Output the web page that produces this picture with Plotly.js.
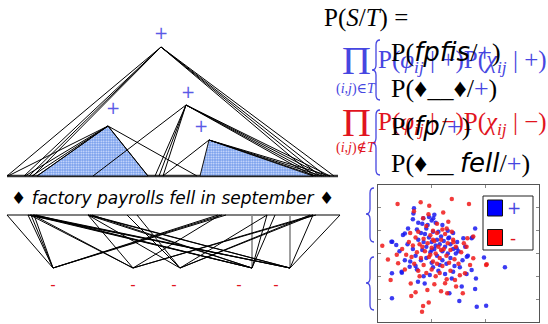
<!DOCTYPE html>
<html><head><meta charset="utf-8">
<script src="https://cdn.plot.ly/plotly-3.0.1.min.js"></script>
<style>html,body{margin:0;padding:0;background:#fff;} #chart{width:548px;height:324px;}</style>
</head><body><div id="chart"></div>
<script>
// ---------- tree (upper, positive) ----------
const topNodeX = [161, 108, 186, 209];
const topNodeY = [47, 126, 105, 140];
const topNodeLabels = ['+', '+', '+', '+'];
const topLabelX = [161, 113, 188, 201];
const topLabelY = [35, 110, 94, 128];
const topBaseY = 176;
const topEdgeNode  = [0,0,0,0,0,0,0,0, 1,1,1,1,1,1, 2,2,2,2,2,2,2,2, 3,3,3,3];
const topEdgeLeafX = [7,24,29,33,314,320,326,334, 8,25,32,37,148,197, 93,155,159,163,313,318,324,330, 163,316,322,330];
const triApex   = [1, 3];
const triLeftX  = [37, 200];
const triRightX = [148, 313];

// ---------- sentence ----------
const sentenceWords = ['factory', 'payrolls', 'fell', 'in', 'september'];

// ---------- tree (lower, negative) ----------
const botTopY = 215;
const botNodeY = 268;
const botNodeX = [53, 133, 180, 252, 290];
const botLabels = ['-', '-', '-', '-', '-'];
const botLabelX = [53, 133, 174, 239, 276];
const botEdgeNode = [0,0,0,0,0,0,0, 1,1,1,1,1,1, 2,2,2,2,2,2, 3,3,3,3,3,3,3, 4,4,4,4,4,4,4];
const botEdgeTopX = [7,28,31,34,218,222,226, 30,33,88,220,313,316, 88,127,137,267,310,313, 30,33,36,88,92,267,275, 28,31,34,88,90,313,340];
const botVertX = [252, 290];

// ---------- scatter ----------
const posX = [-1.66,-1.70,-1.68,-1.88,-2.07,-2.50,-2.32,-1.55,-1.40,-1.20,-1.35,-1.00,-0.85,-0.60,-1.10,-0.75,0.62,0.18,0.52,0.95,1.73,0.65,0.49,0.12,-0.34,0.62,0.03,0.68,1.03,-2.48,-2.48,-2.11,-1.82,-1.51,-1.26,-1.07,-1.30,-0.95,
  -1.9,-1.7,-1.5,-1.3,-1.2,-1.1,-1.0,-0.9,-0.8,-0.7,-0.6,-0.5,-0.4,-0.3,-0.2,-0.1,0.0,-1.6,-1.4,-1.2,-1.0,-0.8,-0.6,-0.45,-0.3,-0.15,-2.2,-2.0,-1.8,-1.25,-0.95,-0.65,-0.35,-0.05,0.25,0.35,0.15,-0.2,-0.5,-0.75,-1.55,-1.05,-0.85,-0.55,-1.35,-0.7,0.05,-0.25,0.3,-1.15,-0.9,-1.5,-0.4,-0.2,
  -2.47,-2.0,-1.31,-0.94,-0.38,-0.07,0.31,0.49,-2.12,-1.6,-1.0];
const posY = [1.98,1.50,1.75,1.10,0.81,0.52,0.37,1.05,0.90,1.10,1.30,1.45,1.35,1.25,1.60,0.95,1.10,0.67,0.71,-0.18,-0.60,-1.09,-0.72,-1.45,-1.74,-1.56,-2.08,-2.33,-2.29,-0.87,-1.96,-0.84,-0.58,-1.24,-1.31,-0.94,-1.00,-0.60,
  0.4,0.2,0.6,0.5,0.3,0.7,0.5,0.2,0.6,0.4,0.1,0.3,0.0,0.4,0.2,0.0,0.1,-0.1,-0.3,-0.2,-0.4,-0.1,-0.3,-0.45,-0.2,-0.55,0.1,-0.3,-0.35,0.85,0.95,0.75,0.7,0.5,0.3,-0.1,-0.3,-0.8,-0.9,-0.75,-0.7,0.05,0.35,0.55,0.15,-0.5,-0.6,-1.1,-0.9,1.25,1.7,1.35,1.0,0.9,
  0.52,0.88,1.54,1.54,0.67,0.23,-0.14,0.67,-0.80,-0.55,0.15];
const negX = [-2.27,-1.41,-1.09,-0.25,0.39,-1.66,-1.12,-0.38,-0.57,-0.44,-2.84,1.05,0.30,0.33,-0.19,0.55,1.03,0.43,0.24,-0.13,-0.09,-0.44,-0.42,0.16,-2.53,-1.78,-1.76,-1.16,-1.32,-1.36,-1.11,-2.63,-2.25,-1.32,-0.80,-0.95,-1.50,0.55,
  -2.1,-1.95,-1.85,-1.7,-1.6,-1.55,-1.45,-1.4,-1.3,-1.25,-1.15,-1.1,-1.05,-1.0,-0.95,-0.9,-0.85,-0.8,-0.75,-0.7,-0.65,-0.6,-0.55,-0.5,-0.45,-0.4,-0.35,-0.3,-0.2,-0.15,-0.1,0.0,0.1,0.2,-1.65,-1.5,-1.3,-1.2,-1.0,-0.85,-0.7,-0.5,-0.3,-0.9,-1.45,-2.0,-1.8,-1.2,-0.6,-0.25,-1.75,-1.35,-0.95,-0.65,-1.05,-0.8,-1.6,-0.65,0.05,-2.3];
const negY = [2.17,2.24,2.09,2.39,2.17,1.85,1.72,1.39,1.80,1.10,0.34,-0.47,0.30,0.67,0.49,-0.21,-0.50,-0.50,-0.87,-1.16,-1.45,-1.13,-1.74,-1.74,-1.16,-1.31,-1.86,-1.60,-2.30,-2.55,-2.15,-0.26,-0.43,1.54,1.30,1.00,0.95,0.75,
  0.2,-0.05,0.5,0.35,0.7,0.05,0.4,-0.2,0.65,0.1,0.45,-0.15,0.8,0.25,-0.35,0.55,0.0,0.9,0.3,-0.2,0.6,-0.55,0.2,0.85,-0.1,0.45,-0.4,0.15,0.6,-0.25,0.3,-0.45,0.05,0.45,-0.45,-0.75,-0.5,-0.85,-0.7,-1.0,-0.85,-1.3,-0.75,-1.35,-1.0,-0.7,0.9,1.2,1.05,0.95,-0.15,0.3,0.6,0.15,-0.05,-0.45,-1.7,-1.65,-0.95,-0.05];
const legendLabels = ['+', '-'];

// ---------- build traces ----------
const BLUE = 'rgb(70,70,225)';
const RED = 'rgb(225,20,30)';
function segments(x0, y0, x1, y1) {
  const xs = [], ys = [];
  for (let i = 0; i < x0.length; i++) { xs.push(x0[i], x1[i], null); ys.push(y0[i], y1[i], null); }
  return {xs, ys};
}
const traces = [];
traces.push({x:[7,338], y:[topBaseY, topBaseY], mode:'lines', line:{color:'#333', width:2.5}, hoverinfo:'skip', xaxis:'x', yaxis:'y'});
for (let k = 0; k < triApex.length; k++) {
  const a = triApex[k];
  traces.push({x:[triLeftX[k], topNodeX[a], triRightX[k], triLeftX[k]], y:[topBaseY, topNodeY[a], topBaseY, topBaseY],
    mode:'lines', fill:'toself', fillcolor:'rgb(140,175,240)',
    fillpattern:{shape:'.', bgcolor:'rgb(115,155,235)', fgcolor:'rgb(225,235,255)', size:2.5, solidity:0.4},
    line:{color:'#111', width:1}, hoverinfo:'skip', xaxis:'x', yaxis:'y'});
}
{
  const s = segments(topEdgeNode.map(i => topNodeX[i]), topEdgeNode.map(i => topNodeY[i]), topEdgeLeafX, topEdgeLeafX.map(() => topBaseY));
  traces.push({x:s.xs, y:s.ys, mode:'lines', line:{color:'#000', width:1}, hoverinfo:'skip', xaxis:'x', yaxis:'y'});
}
traces.push({x:[7,340], y:[botTopY, botTopY], mode:'lines', line:{color:'#000', width:1.2}, hoverinfo:'skip', xaxis:'x', yaxis:'y'});
{
  const s = segments(botVertX, botVertX.map(() => botTopY), botVertX, botVertX.map(() => botNodeY));
  traces.push({x:s.xs, y:s.ys, mode:'lines', line:{color:'#888', width:1.6}, hoverinfo:'skip', xaxis:'x', yaxis:'y'});
}
{
  const s = segments(botEdgeNode.map(i => botNodeX[i]), botEdgeNode.map(() => botNodeY), botEdgeTopX, botEdgeTopX.map(() => botTopY));
  traces.push({x:s.xs, y:s.ys, mode:'lines', line:{color:'#000', width:1}, hoverinfo:'skip', xaxis:'x', yaxis:'y'});
}
traces.push({x:topLabelX, y:topLabelY, mode:'text', text:topNodeLabels, textfont:{family:'DejaVu Sans', size:17, color:'rgb(90,90,230)'}, hoverinfo:'skip', xaxis:'x', yaxis:'y'});
traces.push({x:botLabelX, y:botLabelX.map(() => 286), mode:'text', text:botLabels, textfont:{family:'DejaVu Sans', size:15, color:RED}, hoverinfo:'skip', xaxis:'x', yaxis:'y'});
traces.push({x:posX, y:posY, mode:'markers', marker:{color:'rgb(25,25,240)', size:4.5, opacity:0.85}, xaxis:'x2', yaxis:'y2', hoverinfo:'skip'});
traces.push({x:negX, y:negY, mode:'markers', marker:{color:'rgb(240,25,25)', size:4.5, opacity:0.85}, xaxis:'x2', yaxis:'y2', hoverinfo:'skip'});

// ---------- annotations ----------
const SERIF = 'Liberation Serif, DejaVu Serif, serif';
const SANS = 'DejaVu Sans, sans-serif';
function ann(text, x, y, size, color, family, xanchor) {
  return {text, x, y, xref:'x', yref:'y', showarrow:false, xanchor:xanchor || 'left', yanchor:'middle',
    font:{size, color, family}};
}
const sans = t => `<span style="font-family:DejaVu Sans"><i>${t}</i></span>`;
const bl = t => `<span style="color:${BLUE}">${t}</span>`;
const annotations = [
  ann('\u2666 <i>' + sentenceWords.join(' ') + '</i> \u2666', 172, 198, 17, '#000', SANS, 'center'),
  ann('P(<i>S</i>/<i>T</i>) =', 322, 18, 25, '#000', SERIF),
  ann('\u03A0', 356, 60, 40, BLUE, SERIF, 'center'),
  ann('(<i>i</i>,<i>j</i>)\u2208<i>T</i>', 356, 89, 14, BLUE, SERIF, 'center'),
  ann('\u03A0', 356, 122, 40, RED, SERIF, 'center'),
  ann('(<i>i</i>,<i>j</i>)\u2209<i>T</i>', 356, 148, 14, RED, SERIF, 'center'),
  ann('P(<i>\u03C6<sub>ij</sub></i> | +)P(<i>\u03C7<sub>ij</sub></i> | +)', 376, 61, 25, BLUE, SERIF),
  ann('P(<i>\u03C6<sub>ij</sub></i> | \u2212)P(<i>\u03C7<sub>ij</sub></i> | \u2212)', 376, 123, 25, RED, SERIF),
  ann('P(' + sans('fpfis') + '/' + bl('+') + ')', 389, 52, 26, '#000', SERIF),
  ann('P(\u2666__\u2666/' + bl('+') + ')', 389, 88, 26, '#000', SERIF),
  ann('P(' + sans('fp') + '/' + bl('+') + ')', 389, 126, 26, '#000', SERIF),
  ann('P(\u2666__ ' + sans('fell') + '/' + bl('+') + ')', 389, 163, 26, '#000', SERIF),
  ann(legendLabels[0], 514, 208, 17, BLUE, SANS, 'center'),
  ann(legendLabels[1], 513, 238, 17, RED, SANS, 'center'),
];

function brace(x, y0, y1, ym, w) {
  const r = 5;
  return {type:'path', xref:'x', yref:'y', line:{color:BLUE, width:1.3},
    path:`M ${x+w},${y0} Q ${x},${y0} ${x},${y0+r} L ${x},${ym-r} Q ${x},${ym} ${x-w},${ym} Q ${x},${ym} ${x},${ym+r} L ${x},${y1-r} Q ${x},${y1} ${x+w},${y1}`};
}
const shapes = [
  brace(376, 40, 100, 70, 4),
  brace(376, 110, 175, 143, 4),
  brace(370, 188, 242, 214, 4),
  brace(370, 257, 310, 283, 4),
  {type:'rect', xref:'x', yref:'y', x0:483, x1:533, y0:196, y1:250, line:{color:'#222', width:1}, fillcolor:'#fff'},
  {type:'rect', xref:'x', yref:'y', x0:487.5, x1:502.5, y0:200, y1:216, line:{color:'#111', width:1}, fillcolor:'rgb(0,0,255)'},
  {type:'rect', xref:'x', yref:'y', x0:487.5, x1:502.5, y0:229.5, y1:245.5, line:{color:'#111', width:1}, fillcolor:'rgb(255,0,0)'},
];

const layout = {
  width:548, height:324, margin:{l:0, r:0, t:0, b:0},
  paper_bgcolor:'#fff', plot_bgcolor:'rgba(0,0,0,0)', showlegend:false,
  xaxis:{domain:[0,1], range:[0,548], visible:false, fixedrange:true},
  yaxis:{domain:[0,1], range:[324,0], visible:false, fixedrange:true},
  xaxis2:{domain:[378/548, 539/548], range:[-3,3], anchor:'y2', showgrid:false, zeroline:false, showline:true, mirror:'ticks',
    linecolor:'#555', linewidth:1, ticks:'inside', ticklen:3, tickcolor:'#888', tick0:-1, dtick:2, showticklabels:false},
  yaxis2:{domain:[1-322/324, 1-185/324], range:[-3,3], anchor:'x2', showgrid:false, zeroline:false, showline:true, mirror:'ticks',
    linecolor:'#555', linewidth:1, ticks:'inside', ticklen:3, tickcolor:'#888', dtick:1, showticklabels:false},
  annotations, shapes,
};
Plotly.newPlot('chart', traces, layout, {staticPlot:true, displayModeBar:false});
</script></body></html>
